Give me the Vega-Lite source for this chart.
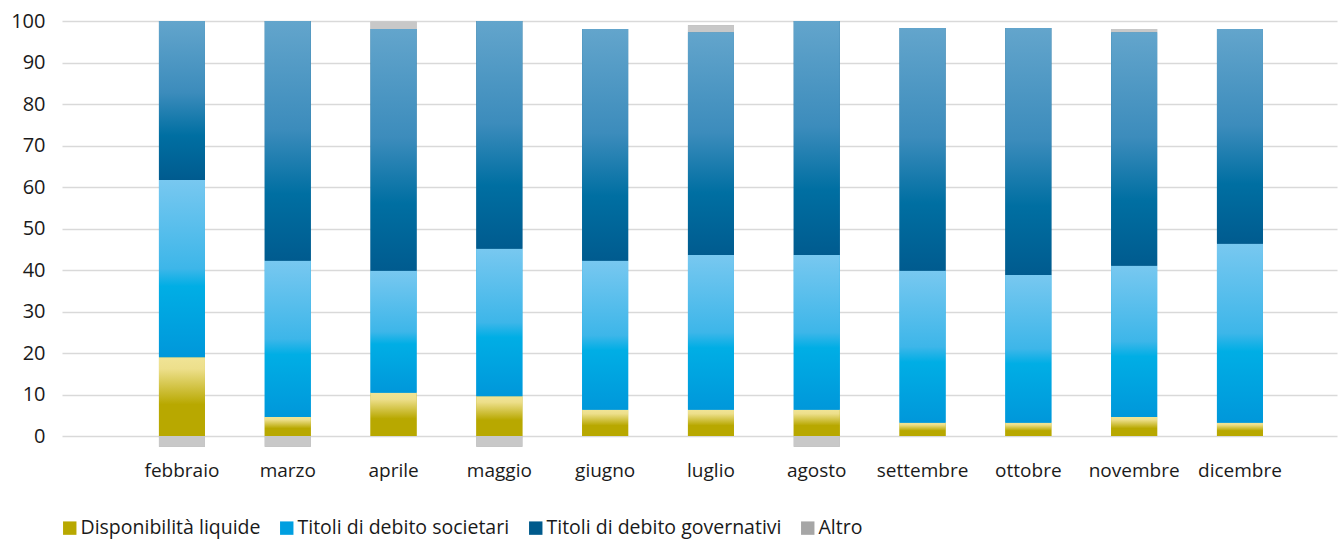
{
  "$schema": "https://vega.github.io/schema/vega-lite/v6.json",
  "width": 1275,
  "height": 435.75,
  "autosize": "none",
  "padding": {"left": 62, "top": 21, "right": 3, "bottom": 82.25},
  "background": "white",
  "config": {
    "view": {"stroke": null},
    "font": "Open Sans",
    "axis": {"labelFont": "Open Sans", "labelColor": "#1a1a1a"},
    "legend": {"labelFont": "Open Sans"}
  },
  "data": {
    "values": [
      {"mese": "febbraio", "serie": "Disponibilità liquide", "ord": 1, "valore": 19.0},
      {"mese": "febbraio", "serie": "Titoli di debito societari", "ord": 2, "valore": 42.7},
      {"mese": "febbraio", "serie": "Titoli di debito governativi", "ord": 3, "valore": 38.3},
      {"mese": "febbraio", "serie": "Altro", "ord": 4, "valore": -2.6},
      {"mese": "marzo", "serie": "Disponibilità liquide", "ord": 1, "valore": 4.6},
      {"mese": "marzo", "serie": "Titoli di debito societari", "ord": 2, "valore": 37.6},
      {"mese": "marzo", "serie": "Titoli di debito governativi", "ord": 3, "valore": 57.8},
      {"mese": "marzo", "serie": "Altro", "ord": 4, "valore": -2.6},
      {"mese": "aprile", "serie": "Disponibilità liquide", "ord": 1, "valore": 10.4},
      {"mese": "aprile", "serie": "Titoli di debito societari", "ord": 2, "valore": 29.4},
      {"mese": "aprile", "serie": "Titoli di debito governativi", "ord": 3, "valore": 58.3},
      {"mese": "aprile", "serie": "Altro", "ord": 4, "valore": 1.7},
      {"mese": "maggio", "serie": "Disponibilità liquide", "ord": 1, "valore": 9.6},
      {"mese": "maggio", "serie": "Titoli di debito societari", "ord": 2, "valore": 35.5},
      {"mese": "maggio", "serie": "Titoli di debito governativi", "ord": 3, "valore": 54.9},
      {"mese": "maggio", "serie": "Altro", "ord": 4, "valore": -2.6},
      {"mese": "giugno", "serie": "Disponibilità liquide", "ord": 1, "valore": 6.3},
      {"mese": "giugno", "serie": "Titoli di debito societari", "ord": 2, "valore": 35.9},
      {"mese": "giugno", "serie": "Titoli di debito governativi", "ord": 3, "valore": 55.9},
      {"mese": "luglio", "serie": "Disponibilità liquide", "ord": 1, "valore": 6.3},
      {"mese": "luglio", "serie": "Titoli di debito societari", "ord": 2, "valore": 37.3},
      {"mese": "luglio", "serie": "Titoli di debito governativi", "ord": 3, "valore": 53.7},
      {"mese": "luglio", "serie": "Altro", "ord": 4, "valore": 1.7},
      {"mese": "agosto", "serie": "Disponibilità liquide", "ord": 1, "valore": 6.3},
      {"mese": "agosto", "serie": "Titoli di debito societari", "ord": 2, "valore": 37.3},
      {"mese": "agosto", "serie": "Titoli di debito governativi", "ord": 3, "valore": 56.4},
      {"mese": "agosto", "serie": "Altro", "ord": 4, "valore": -2.6},
      {"mese": "settembre", "serie": "Disponibilità liquide", "ord": 1, "valore": 3.2},
      {"mese": "settembre", "serie": "Titoli di debito societari", "ord": 2, "valore": 36.6},
      {"mese": "settembre", "serie": "Titoli di debito governativi", "ord": 3, "valore": 58.5},
      {"mese": "ottobre", "serie": "Disponibilità liquide", "ord": 1, "valore": 3.2},
      {"mese": "ottobre", "serie": "Titoli di debito societari", "ord": 2, "valore": 35.6},
      {"mese": "ottobre", "serie": "Titoli di debito governativi", "ord": 3, "valore": 59.5},
      {"mese": "novembre", "serie": "Disponibilità liquide", "ord": 1, "valore": 4.6},
      {"mese": "novembre", "serie": "Titoli di debito societari", "ord": 2, "valore": 36.4},
      {"mese": "novembre", "serie": "Titoli di debito governativi", "ord": 3, "valore": 56.3},
      {"mese": "novembre", "serie": "Altro", "ord": 4, "valore": 0.8},
      {"mese": "dicembre", "serie": "Disponibilità liquide", "ord": 1, "valore": 3.2},
      {"mese": "dicembre", "serie": "Titoli di debito societari", "ord": 2, "valore": 43.1},
      {"mese": "dicembre", "serie": "Titoli di debito governativi", "ord": 3, "valore": 51.8}
    ]
  },
  "transform": [
    {"stack": "valore", "groupby": ["mese"], "sort": [{"field": "ord", "order": "ascending"}], "as": ["y0", "y1"]}
  ],
  "encoding": {
    "x": {
      "field": "mese",
      "type": "nominal",
      "sort": ["febbraio", "marzo", "aprile", "maggio", "giugno", "luglio", "agosto", "settembre", "ottobre", "novembre", "dicembre"],
      "scale": {
        "domain": ["febbraio", "marzo", "aprile", "maggio", "giugno", "luglio", "agosto", "settembre", "ottobre", "novembre", "dicembre"],
        "paddingInner": 0.565,
        "paddingOuter": 0.808,
        "align": 0.567
      },
      "axis": {
        "title": null,
        "labelAngle": 0,
        "domain": false,
        "ticks": false,
        "labelPadding": 5,
        "labelFontSize": 19,
        "labelColor": "#1a1a1a"
      }
    },
    "y": {
      "field": "y1",
      "type": "quantitative",
      "scale": {"domain": [-5, 100], "nice": false, "zero": false},
      "axis": {
        "title": null,
        "values": [0, 10, 20, 30, 40, 50, 60, 70, 80, 90, 100],
        "domain": false,
        "ticks": false,
        "grid": true,
        "gridColor": "#D9D9D9",
        "gridWidth": 1.3,
        "labelPadding": 17,
        "labelFontSize": 20,
        "labelColor": "#1a1a1a"
      }
    },
    "y2": {"field": "y0"}
  },
  "layer": [
    {
      "mark": {"type": "bar"},
      "encoding": {
        "color": {
          "field": "serie",
          "type": "nominal",
          "scale": {
            "domain": ["Disponibilità liquide", "Titoli di debito societari", "Titoli di debito governativi", "Altro"],
            "range": ["#B8A800", "#009FE0", "#005A8C", "#A6A6A6"]
          },
          "legend": {
            "title": null,
            "orient": "none",
            "legendX": -2,
            "legendY": 497,
            "direction": "horizontal",
            "symbolType": "square",
            "symbolSize": 180,
            "symbolStrokeWidth": 0,
            "labelFontSize": 19.5,
            "labelLimit": 0,
            "labelColor": "#1a1a1a",
            "labelOffset": 1,
            "columnPadding": 16
          }
        }
      }
    },
    {
      "transform": [{"filter": "datum.serie === 'Altro'"}],
      "mark": {"type": "bar", "color": "#C8C8C8"}
    },
    {
      "transform": [{"filter": "datum.serie === 'Disponibilità liquide'"}],
      "mark": {
        "type": "bar",
        "color": {
          "gradient": "linear", "x1": 0, "y1": 0, "x2": 0, "y2": 1,
          "stops": [
            {"offset": 0, "color": "#F0E496"},
            {"offset": 0.15, "color": "#EDDF8B"},
            {"offset": 0.6, "color": "#B8A800"},
            {"offset": 1, "color": "#B8A800"}
          ]
        }
      }
    },
    {
      "transform": [{"filter": "datum.serie === 'Titoli di debito societari'"}],
      "mark": {
        "type": "bar",
        "color": {
          "gradient": "linear", "x1": 0, "y1": 0, "x2": 0, "y2": 1,
          "stops": [
            {"offset": 0, "color": "#78C8F0"},
            {"offset": 0.5, "color": "#3DB6E9"},
            {"offset": 0.6, "color": "#00AEE5"},
            {"offset": 1, "color": "#0097DA"}
          ]
        }
      }
    },
    {
      "transform": [{"filter": "datum.serie === 'Titoli di debito governativi'"}],
      "mark": {
        "type": "bar",
        "color": {
          "gradient": "linear", "x1": 0, "y1": 0, "x2": 0, "y2": 1,
          "stops": [
            {"offset": 0, "color": "#63A5CC"},
            {"offset": 0.45, "color": "#3C8CBC"},
            {"offset": 0.72, "color": "#006FA2"},
            {"offset": 1, "color": "#005B8F"}
          ]
        }
      }
    }
  ]
}
